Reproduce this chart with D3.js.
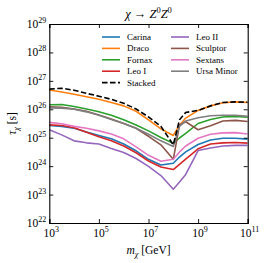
<!DOCTYPE html>
<html>
<head>
<meta charset="utf-8">
<script src="https://cdn.jsdelivr.net/npm/d3@7"></script>
<style>
  body { margin: 0; background: #fff; }
  svg text { font-family: "Liberation Serif", "DejaVu Serif", serif; fill: #000; }
</style>
</head>
<body>
<div id="chart"></div>
<script>
// log10 of the DM mass grid [GeV]
const logMass = [3, 3.5, 4, 4.5, 5, 5.5, 6, 6.5, 7, 7.5, 8, 8.25, 8.5, 9, 9.5, 10, 10.5, 11];

// log10 of lifetime limits [s], one array per dwarf
const carina = [25.43, 25.40, 25.33, 25.20, 25.08, 24.96, 24.78, 24.54, 24.24, 24.04, 24.10, 24.32, 24.50, 24.76, 24.92, 24.98, 24.98, 24.95];
const draco = [26.68, 26.61, 26.53, 26.44, 26.35, 26.24, 26.12, 25.93, 25.63, 25.31, 25.08, 25.44, 25.69, 25.96, 26.12, 26.23, 26.26, 26.24];
const fornax = [26.16, 26.17, 26.10, 26.01, 25.91, 25.79, 25.63, 25.45, 25.24, 25.01, 24.80, 24.99, 25.15, 25.50, 25.64, 25.73, 25.75, 25.72];
const leoI = [25.45, 25.43, 25.35, 25.19, 25.03, 24.89, 24.71, 24.47, 24.18, 23.97, 23.88, 24.06, 24.25, 24.61, 24.78, 24.82, 24.83, 24.81];
const leoII = [25.28, 25.10, 24.89, 24.82, 24.78, 24.62, 24.48, 24.27, 23.99, 23.67, 23.19, 23.44, 23.71, 24.55, 24.64, 24.71, 24.73, 24.73];
const sculptor = [26.09, 26.07, 26.01, 25.93, 25.80, 25.66, 25.50, 25.33, 25.05, 24.75, 24.24, 25.45, 25.56, 25.28, 25.42, 25.59, 25.61, 25.57];
const sextans = [25.54, 25.49, 25.40, 25.33, 25.24, 25.13, 24.96, 24.68, 24.38, 24.17, 24.24, 24.50, 24.71, 24.98, 25.12, 25.17, 25.18, 25.13];
const ursaMinor = [26.05, 26.04, 26.00, 25.91, 25.79, 25.64, 25.50, 25.33, 25.12, 24.89, 24.69, 25.40, 25.59, 25.70, 25.77, 25.79, 25.79, 25.75];
const stacked = [26.71, 26.74, 26.67, 26.56, 26.46, 26.35, 26.21, 26.01, 25.73, 25.40, 24.75, 25.63, 25.89, 25.96, 26.12, 26.24, 26.26, 26.25];

const names = ["Carina", "Draco", "Fornax", "Leo I", "Leo II", "Sculptor", "Sextans", "Ursa Minor"];
const colors = ["#1f77b4", "#ff7f0e", "#2ca02c", "#d62728", "#9467bd", "#8c564b", "#e377c2", "#7f7f7f"];
const seriesValues = [carina, draco, fornax, leoI, leoII, sculptor, sextans, ursaMinor];

const xTickExp = [3, 5, 7, 9, 11];
const yTickExp = [22, 23, 24, 25, 26, 27, 28, 29];

const width = 266;
const height = 263;
const margin = { top: 24, right: 18.3, bottom: 40, left: 49.3 };

const svg = d3.select("#chart").append("svg")
  .attr("width", width)
  .attr("height", height);

const x = d3.scaleLog().domain([1e3, 1e11]).range([margin.left, width - margin.right]);
const y = d3.scaleLog().domain([1e22, 1e29]).range([height - margin.bottom, margin.top]);

const plot = svg.append("g");

plot.append("clipPath").attr("id", "clip")
  .append("rect")
  .attr("x", margin.left).attr("y", margin.top)
  .attr("width", x.range()[1] - margin.left)
  .attr("height", y.range()[0] - margin.top);

const line = d3.line()
  .x((d, i) => x(10 ** logMass[i]))
  .y((d) => y(10 ** d));

const series = names.map((n, i) => ({ name: n, color: colors[i], values: seriesValues[i] }));

plot.append("g").attr("clip-path", "url(#clip)")
  .selectAll("path")
  .data(series)
  .enter()
  .append("path")
  .attr("d", (d) => line(d.values))
  .attr("fill", "none")
  .attr("stroke", (d) => d.color)
  .attr("stroke-width", 1.6)
  .attr("stroke-linejoin", "round");

plot.append("path")
  .attr("clip-path", "url(#clip)")
  .attr("d", line(stacked))
  .attr("fill", "none")
  .attr("stroke", "#000")
  .attr("stroke-width", 1.6)
  .attr("stroke-dasharray", "5.5,2.5");

// axes: ticks inward on all four sides
const tickLen = 4;
const xTicks = xTickExp.map((e) => 10 ** e);
const yTicks = yTickExp.map((e) => 10 ** e);

const axB = d3.axisBottom(x).tickValues(xTicks).tickSize(-tickLen).tickFormat("");
const axT = d3.axisTop(x).tickValues(xTicks).tickSize(-tickLen).tickFormat("");
const axL = d3.axisLeft(y).tickValues(yTicks).tickSize(-tickLen).tickFormat("");
const axR = d3.axisRight(y).tickValues(yTicks).tickSize(-tickLen).tickFormat("");

const y0 = y.range()[0];
const x1 = x.range()[1];
svg.append("g").attr("transform", `translate(0,${y0})`).call(axB);
svg.append("g").attr("transform", `translate(0,${margin.top})`).call(axT);
svg.append("g").attr("transform", `translate(${margin.left},0)`).call(axL);
svg.append("g").attr("transform", `translate(${x1},0)`).call(axR);
svg.selectAll(".domain").attr("stroke", "#000").attr("stroke-width", 1.1);
svg.selectAll(".tick line").attr("stroke", "#000").attr("stroke-width", 0.9);

// tick labels 10^n
const powLabel = (sel) => {
  sel.append("tspan").text("10").style("font-size", "11.5px");
  sel.append("tspan").text((d) => d).attr("dy", -5).style("font-size", "8px");
};

svg.append("g").selectAll("text")
  .data(xTickExp)
  .enter()
  .append("text")
  .attr("x", (d) => x(10 ** d) + 2)
  .attr("y", y0 + 14)
  .attr("text-anchor", "middle")
  .call(powLabel);

svg.append("g").selectAll("text")
  .data(yTickExp)
  .enter()
  .append("text")
  .attr("x", margin.left - 3)
  .attr("y", (d) => y(10 ** d) + 4)
  .attr("text-anchor", "end")
  .call(powLabel);

// title
const title = svg.append("text")
  .attr("x", (margin.left + x1) / 2)
  .attr("y", 18)
  .attr("text-anchor", "middle")
  .style("font-size", "12.5px");
title.append("tspan").text("χ").style("font-style", "italic");
title.append("tspan").text(" → ");
title.append("tspan").text("Z").style("font-style", "italic");
title.append("tspan").text("0").attr("dy", -5).style("font-size", "8.5px");
title.append("tspan").text("Z").attr("dy", 5).style("font-style", "italic");
title.append("tspan").text("0").attr("dy", -5).style("font-size", "8.5px");

// x label
const xl = svg.append("text")
  .attr("x", (margin.left + x1) / 2)
  .attr("y", 254)
  .attr("text-anchor", "middle")
  .style("font-size", "11.5px");
xl.append("tspan").text("m").style("font-style", "italic");
xl.append("tspan").text("χ").attr("dy", 3).style("font-size", "8px").style("font-style", "italic");
xl.append("tspan").text(" [GeV]").attr("dy", -3);

// y label
const yl = svg.append("text")
  .attr("transform", `translate(16,${(margin.top + y0) / 2}) rotate(-90)`)
  .attr("text-anchor", "middle")
  .style("font-size", "11.5px");
yl.append("tspan").text("τ").style("font-style", "italic");
yl.append("tspan").text("χ").attr("dy", 3).style("font-size", "8px").style("font-style", "italic");
yl.append("tspan").text(" [s]").attr("dy", -3);

// legend, two columns filled top to bottom
const legendItems = series.map((s) => ({ name: s.name, color: s.color, dash: null }));
legendItems.splice(4, 0, { name: "Stacked", color: "#000", dash: "5.5,2.5" });
const perCol = 5;
const colX = [102, 171];
const rowY0 = 37;
const rowH = 11.4;

const leg = svg.append("g").selectAll("g")
  .data(legendItems)
  .enter()
  .append("g")
  .attr("transform", (d, i) => `translate(${colX[Math.floor(i / perCol)]},${rowY0 + (i % perCol) * rowH})`);

leg.append("line")
  .attr("x1", 0).attr("x2", 18)
  .attr("stroke", (d) => d.color)
  .attr("stroke-width", 1.6)
  .attr("stroke-dasharray", (d) => d.dash);

leg.append("text")
  .attr("x", 25)
  .attr("y", 3)
  .style("font-size", "9px")
  .text((d) => d.name);
</script>
</body>
</html>
